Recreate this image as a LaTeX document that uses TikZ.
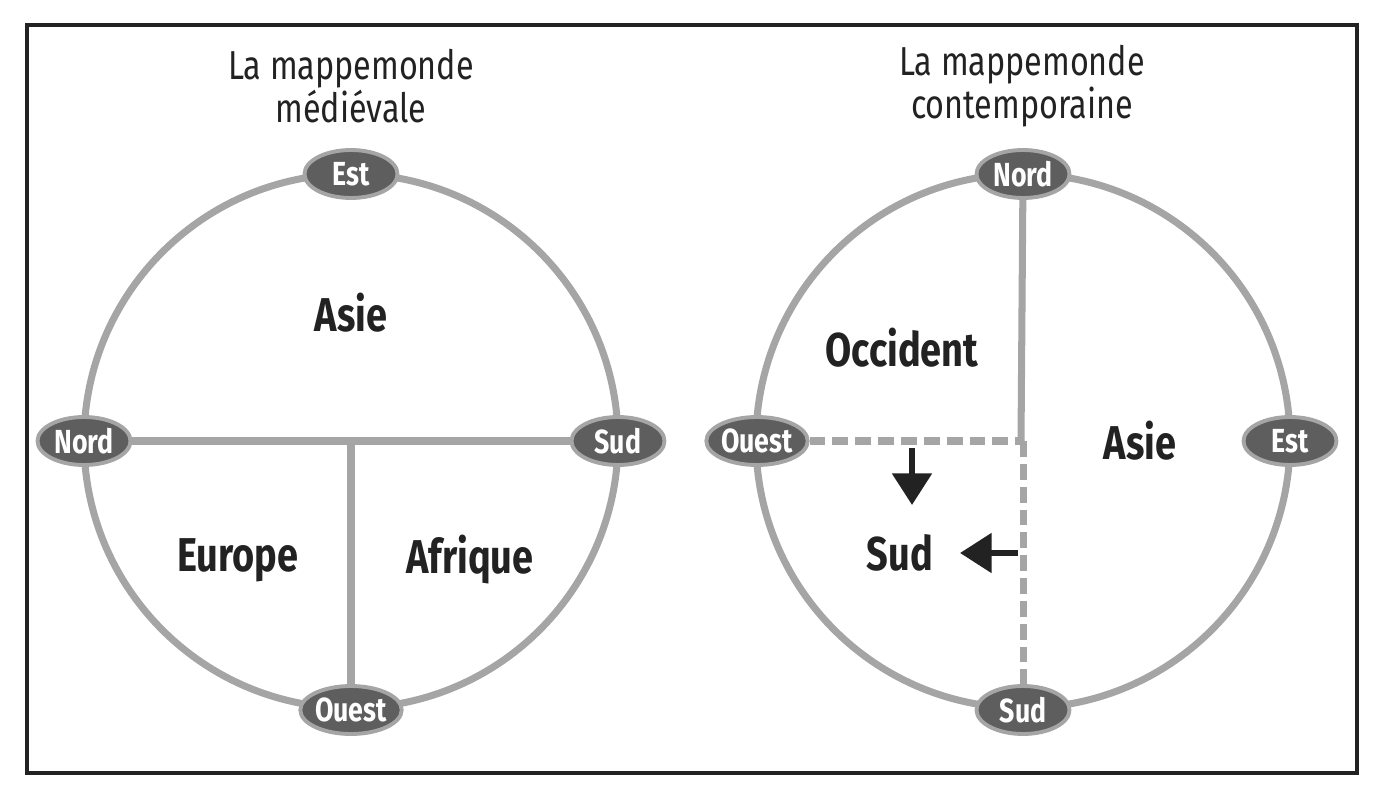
\documentclass[tikz,border=0pt]{standalone}
\usepackage{fontspec}
\setmainfont{Fira Sans}[FakeStretch=0.8]
\usetikzlibrary{shapes.geometric,arrows.meta}
\definecolor{trait}{HTML}{A5A5A5}
\definecolor{pastille}{HTML}{5E5E5E}
\definecolor{encre}{HTML}{222222}
\begin{document}
\begin{tikzpicture}[>={Triangle[width=11pt,length=9pt]},
  point/.style={ellipse, draw=trait, line width=1.1pt, fill=pastille, text=white, font=\bfseries\fontsize{9.5}{10}\selectfont, minimum width=0.93cm, minimum height=0.48cm, inner sep=0pt},
  region/.style={text=encre, font=\bfseries\fontsize{13.5}{14}\selectfont},
  titre/.style={text=encre, align=center, font=\fontsize{11.5}{12.2}\selectfont},
  cercle/.style={draw=trait, line width=2pt},
  pointille/.style={draw=trait, line width=2pt, dash pattern=on 4.5pt off 2pt}]
\useasboundingbox (0,0) rectangle (13.86,7.99);
\draw[line width=0.9pt, encre] (0.27,0.26) rectangle (13.57,7.74);

% la mappemonde medievale
\node[titre] (titreA) at (3.51,7.13) {La mappemonde\\médiévale};
\draw[cercle] (3.51,3.58) circle (2.67);
\node[point] (estA) at (3.51,6.25) {Est};
\node[point] (nordA) at (0.84,3.58) {Nord};
\node[point] (sudA) at (6.18,3.58) {Sud};
\node[point] (ouestA) at (3.51,0.89) {Ouest};
\coordinate (centreA) at (3.51,3.58);
\draw[cercle] (nordA) -- (sudA);
\draw[cercle] (centreA) -- (ouestA);
\node[region] (asieA) at (3.51,4.86) {Asie};
\node[region] (europe) at (2.38,2.39) {Europe};
\node[region] (afrique) at (4.70,2.39) {Afrique};

% la mappemonde contemporaine
\node[titre] (titreB) at (10.22,7.13) {La mappemonde\\contemporaine};
\draw[cercle] (10.23,3.58) circle (2.67);
\node[point] (nordB) at (10.23,6.25) {Nord};
\node[point] (ouestB) at (7.57,3.58) {Ouest};
\node[point] (estB) at (12.90,3.58) {Est};
\node[point] (sudB) at (10.23,0.89) {Sud};
\coordinate (centreB) at (10.21,3.58);
\draw[cercle] (nordB) -- (centreB);
\draw[pointille] (ouestB) -- (centreB);
\draw[pointille] (10.23,3.58) -- (sudB);
\node[region] (occident) at (9.02,4.51) {Occident};
\node[region] (asieB) at (11.40,3.58) {Asie};
\node[region] (sudC) at (9.00,2.46) {Sud};

\coordinate (hautF) at (9.12,3.51);
\coordinate (basF) at (9.12,2.94);
\coordinate (droiteF) at (10.18,2.46);
\coordinate (gaucheF) at (9.60,2.46);
\draw[->, line width=1.8pt, encre] (hautF) -- (basF);
\draw[->, line width=1.8pt, encre] (droiteF) -- (gaucheF);
\end{tikzpicture}
\end{document}
